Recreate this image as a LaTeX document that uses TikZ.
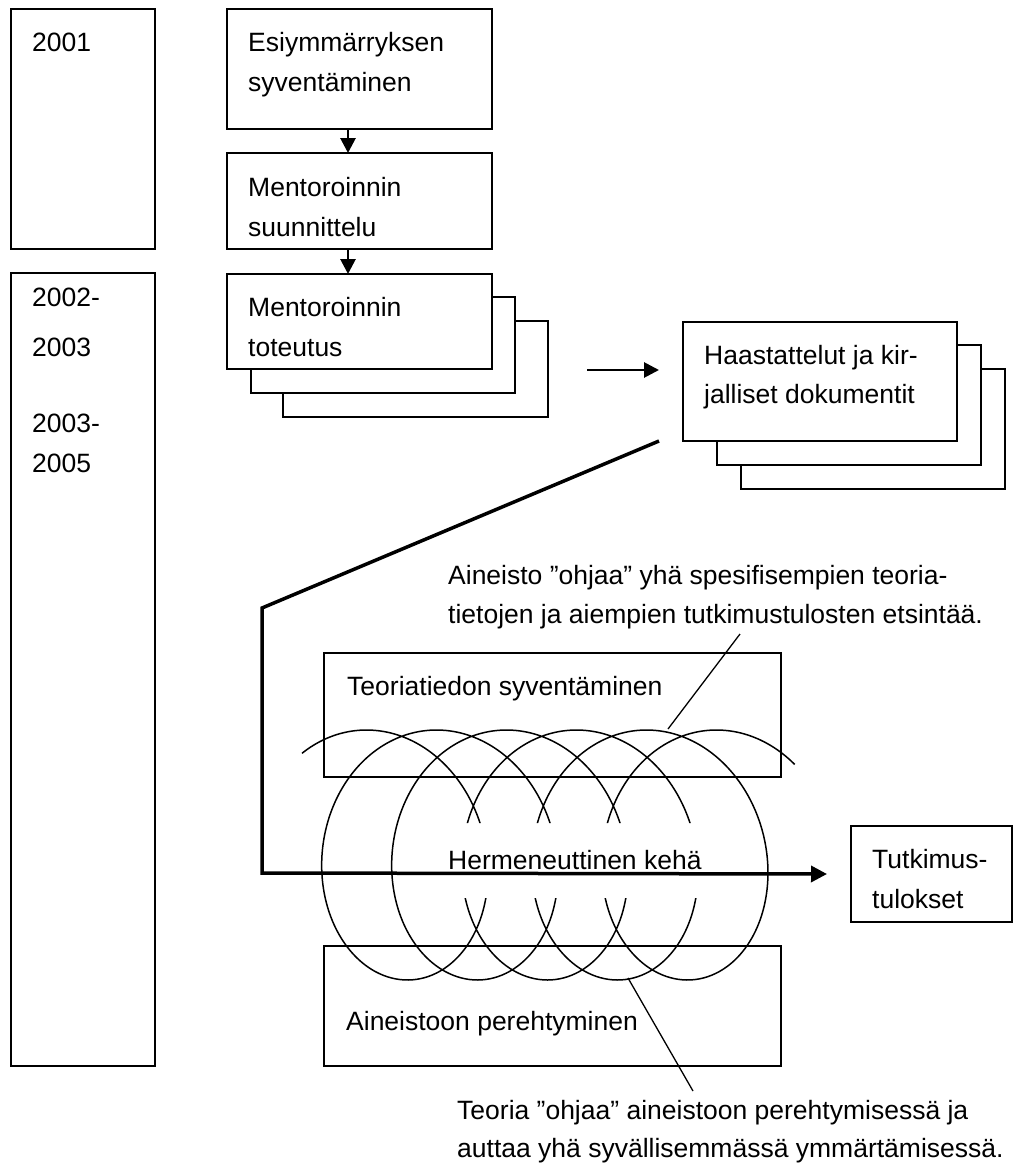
\documentclass[tikz,border=0pt]{standalone}
\usepackage{fontspec}
\setmainfont{Liberation Sans}
\usetikzlibrary{arrows.meta}
\begin{document}
\begin{tikzpicture}[x=1pt,y=-1pt,
  box/.style={draw=black, line width=1.6pt, fill=white, inner sep=0pt, outer sep=0pt},
  lbl/.style={anchor=base west, inner sep=0pt, font=\fontsize{26.5}{40}\selectfont},
  flow/.style={line width=2.8pt, -{Triangle[length=15pt,width=15pt]}},
  mainpath/.style={line width=3.5pt, -{Triangle[length=16pt,width=16pt]}},
  leader/.style={line width=1.3pt},
  coil/.style={line width=1.5pt}
]
\useasboundingbox[fill=white] (0,0) rectangle (1017,1164);

% time-line column
\node[box, minimum width=144pt, minimum height=240pt] (y1) at (83,129) {};
\node[box, minimum width=144pt, minimum height=793pt] (y2) at (83,669.5) {};
\node[lbl] (t2001) at (32,52) {2001};
\node[lbl] (t2002) at (32,306.5) {2002-};
\node[lbl] (t2003) at (32,356) {2003};
\node[lbl] (t2003b) at (32,432.5) {2003-};
\node[lbl] (t2005) at (32,472.5) {2005};

% process steps
\node[box, minimum width=265pt, minimum height=120pt] (E) at (359.5,69) {};
\node[lbl] (Et1) at (248,52) {Esiymmärryksen};
\node[lbl] (Et2) at (248,92) {syventäminen};

\node[box, minimum width=265pt, minimum height=96pt] (M1) at (359.5,201) {};
\node[lbl] (M1t1) at (248,196.5) {Mentoroinnin};
\node[lbl] (M1t2) at (248,236) {suunnittelu};

\node[box, minimum width=265pt, minimum height=96pt] (M2c) at (415.5,369) {};
\node[box, minimum width=264pt, minimum height=96pt] (M2b) at (383,345) {};
\node[box, minimum width=265pt, minimum height=95pt] (M2) at (359.5,321.5) {};
\node[lbl] (M2t1) at (248,316.5) {Mentoroinnin};
\node[lbl] (M2t2) at (248,356) {toteutus};

\draw[flow] ([xshift=-11.5pt]E.south) -- ([xshift=-11.5pt]M1.north);
\draw[flow] ([xshift=-11.5pt]M1.south) -- ([xshift=-11.5pt]M2.north);

% interviews and documents
\node[box, minimum width=264pt, minimum height=120pt] (Hc) at (873,429) {};
\node[box, minimum width=264pt, minimum height=120pt] (Hb) at (849,405) {};
\node[box, minimum width=274pt, minimum height=119pt] (H) at (820,381.5) {};
\node[lbl] (Ht1) at (704,364) {Haastattelut ja kir-};
\node[lbl] (Ht2) at (704,403) {jalliset dokumentit};

\coordinate (hin) at (587,370);
\coordinate (hend) at (659,370);
\draw[flow] (hin) -- (hend);

% theory and data boxes
\node[box, minimum width=457pt, minimum height=124pt] (Teo) at (552.5,715) {};
\node[lbl] (Teot) at (347,695) {Teoriatiedon syventäminen};
\node[box, minimum width=457pt, minimum height=120pt] (Ain) at (552.5,1006) {};
\node[lbl] (Aint) at (346,1030) {Aineistoon perehtyminen};

% results
\node[box, minimum width=161pt, minimum height=96pt] (T) at (931.5,874) {};
\node[lbl] (Tt1) at (872,868) {Tutkimus-};
\node[lbl] (Tt2) at (872,908) {tulokset};

% hermeneutic coil, open in the middle band
\begin{scope}
  \clip (0,0) rectangle (1017,823)
        (0,898) rectangle (1017,1164)
        (0,823) rectangle (430,898)
        (730,823) rectangle (1017,898);
  \draw[coil, variable=\t, domain=0.95:33.75, samples=700, smooth]
    plot ({352 + 11.14*\t - 100*cos(\t r) - 3*sin(\t r)}, {855 - 125*sin(\t r)});
\end{scope}
\node[lbl] (Herm) at (448,869) {Hermeneuttinen kehä};

% main research path
\coordinate (src) at ([xshift=-24pt]H.south west);
\coordinate (bend) at (262,608);
\coordinate (drop) at (262,873);
\coordinate (tip) at ([xshift=-24pt]T.west);
\draw[mainpath] (src) -- (bend) -- (drop) -- (tip);

% annotations
\node[lbl] (An1) at (448,584) {Aineisto ”ohjaa” yhä spesifisempien teoria-};
\node[lbl] (An2) at (448,623) {tietojen ja aiempien tutkimustulosten etsintää.};
\coordinate (la) at (740,634);
\coordinate (lb) at (668,729);
\draw[leader] (la) -- (lb);

\node[lbl] (Bn1) at (457,1119) {Teoria ”ohjaa” aineistoon perehtymisessä ja};
\node[lbl] (Bn2) at (457,1157) {auttaa yhä syvällisemmässä ymmärtämisessä.};
\coordinate (lc) at (628,978);
\coordinate (ld) at (693,1091);
\draw[leader] (lc) -- (ld);
\end{tikzpicture}
\end{document}
